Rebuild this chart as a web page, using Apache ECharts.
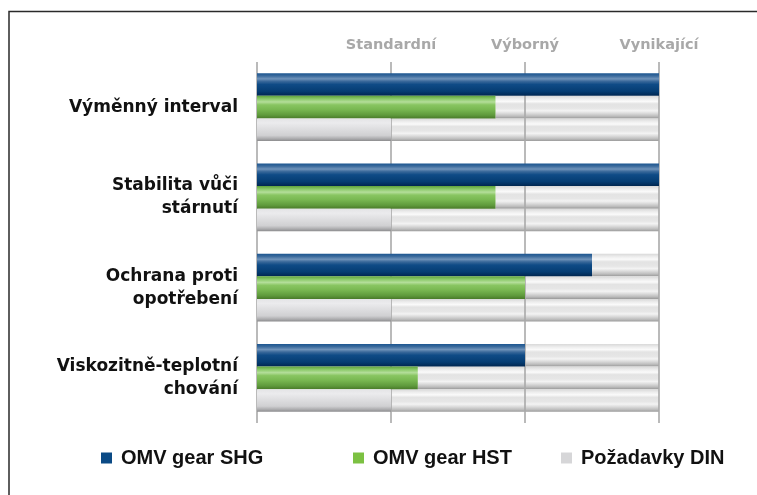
<!DOCTYPE html>
<html>
<head>
<meta charset="utf-8">
<script src="https://cdn.jsdelivr.net/npm/echarts@6/dist/echarts.min.js"></script>
<style>
html,body{margin:0;padding:0;background:#fff;}
#chart{width:757px;height:495px;}
</style>
</head>
<body>
<div id="chart"></div>
<script>
const categories = ['Výměnný interval', 'Stabilita vůči\nstárnutí', 'Ochrana proti\nopotřebení', 'Viskozitně-teplotní\nchování'];
const tickLabels = ['', 'Standardní', 'Výborný', 'Vynikající'];
const seriesNames = ['OMV gear SHG', 'OMV gear HST', 'Požadavky DIN'];
const shgValues = [3, 3, 2.5, 2];
const hstValues = [1.78, 1.78, 2, 1.2];
const dinValues = [1, 1, 1, 1];
const scaleMax = 3;

function grad(stops) {
  return new echarts.graphic.LinearGradient(0, 0, 0, 1, stops.map(s => ({offset: s[0], color: s[1]})));
}
const blueFill = grad([[0,'#1b5590'],[0.12,'#3a6a9c'],[0.25,'#6f93ba'],[0.36,'#3a699a'],[0.5,'#0f4b86'],[0.8,'#053d73'],[1,'#002650']]);
const greenFill = grad([[0,'#5fa43c'],[0.14,'#8cca6a'],[0.27,'#b4de9a'],[0.4,'#88c561'],[0.6,'#79b852'],[0.85,'#5f9a3c'],[1,'#497a2a']]);
const greyFill = grad([[0,'#e4e4e6'],[0.2,'#ebebed'],[0.5,'#dcdcde'],[0.75,'#d0d0d2'],[0.9,'#aaaaac'],[1,'#8a8a8c']]);
const trackFill = grad([[0,'#d8d8d8'],[0.14,'#eeeeee'],[0.25,'#fafafa'],[0.36,'#e3e3e3'],[0.55,'#e6e6e6'],[0.66,'#f3f3f3'],[0.76,'#dedede'],[0.9,'#bdbdbd'],[1,'#999999']]);

const valueSets = [shgValues, hstValues, dinValues];
const fills = [blueFill, greenFill, greyFill];
const legendColors = ['#0b4a85', '#7cc142', '#d6d6d8'];
const legendLefts = [101, 353, 561];

const series = [];
valueSets.forEach((vals, i) => {
  series.push({
    name: seriesNames[i], type: 'bar', stack: 's' + i, z: 3,
    data: vals, itemStyle: {color: fills[i]},
    barGap: '0%', barCategoryGap: '24.7%', silent: true
  });
  series.push({
    name: seriesNames[i] + ' track', type: 'bar', stack: 's' + i, z: 1,
    data: vals.map(v => scaleMax - v), itemStyle: {color: trackFill},
    barGap: '0%', barCategoryGap: '24.7%', silent: true
  });
});

const legends = seriesNames.map((n, i) => ({
  left: legendLefts[i], top: 448, padding: 0,
  itemWidth: 11, itemHeight: 11, icon: 'rect', selectedMode: false,
  data: [{name: n, itemStyle: {color: legendColors[i]}}],
  textStyle: {fontFamily: 'Liberation Sans', fontWeight: 'bold', fontSize: 20, color: '#111111', padding: [0,0,0,4]}
}));

const chart = echarts.init(document.getElementById('chart'), null, {renderer: 'canvas'});
chart.setOption({
  animation: false,
  backgroundColor: '#ffffff',
  grid: {left: 257, right: 98, top: 62, bottom: 72, containLabel: false},
  xAxis: {
    type: 'value', position: 'top', min: 0, max: scaleMax, interval: 1, z: 2,
    axisLine: {show: false}, axisTick: {show: false},
    splitLine: {show: true, lineStyle: {color: '#a9a9a9', width: 1.6}},
    axisLabel: {
      margin: 9, fontFamily: 'DejaVu Sans', fontWeight: 'bold', fontSize: 14.5, color: '#a8a8a8',
      formatter: v => tickLabels[Math.round(v)] || ''
    }
  },
  yAxis: {
    type: 'category', inverse: true, data: categories,
    axisLine: {show: false}, axisTick: {show: false}, splitLine: {show: false},
    axisLabel: {margin: 19, fontFamily: 'DejaVu Sans', fontWeight: 'bold', fontSize: 17, lineHeight: 23, color: '#111111', align: 'right'}
  },
  legend: legends,
  series: series,
  graphic: [{
    type: 'rect', shape: {x: 9, y: 11.5, width: 900, height: 700},
    style: {fill: null, stroke: '#2a2a2a', lineWidth: 1.5}, silent: true, z: 10
  }]
});
</script>
</body>
</html>
